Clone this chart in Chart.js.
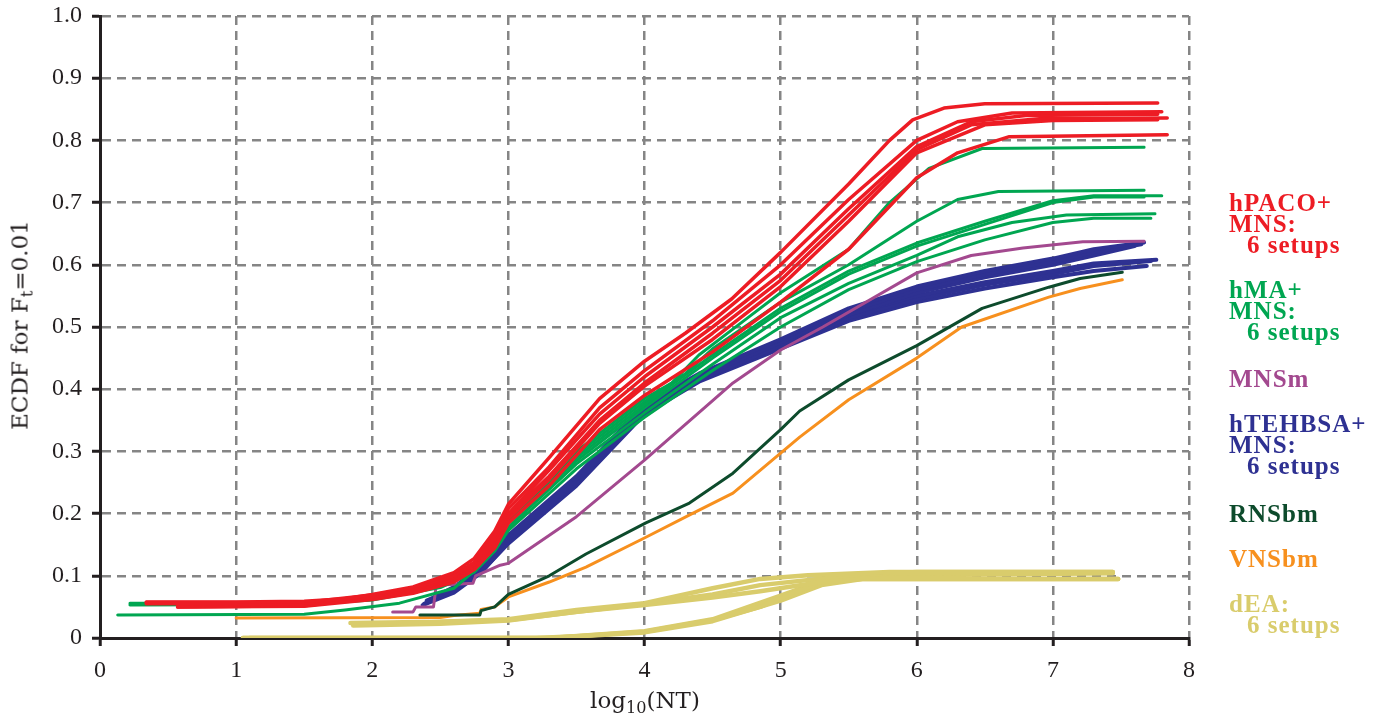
<!DOCTYPE html>
<html>
<head>
<meta charset="utf-8">
<script src="https://cdn.jsdelivr.net/npm/chart.js@4"></script>
<style>
body { margin: 0; background: #fff; }
#wrap { position: relative; width: 1392px; height: 717px; }
.lab { position: absolute; left: 1229px; font-family: "Liberation Serif", serif; font-weight: bold; font-size: 25px; letter-spacing: 1px; line-height: 21px; white-space: nowrap; }
.lab .in { padding-left: 18px; }
.ttl { position: absolute; font-family: "DejaVu Serif", serif; font-size: 23px; color: #231f20; white-space: nowrap; line-height: 23px; }
sub { font-size: 70%; line-height: 0; vertical-align: -0.3em; }
</style>
</head>
<body>
<div id="wrap">
  <canvas id="ecdf" width="1392" height="717"></canvas>
  <div class="ttl" style="left:20px;top:325px;transform:translate(-50%,-50%) rotate(-90deg);">ECDF for F<sub>t</sub>=0.01</div>
  <div class="ttl" style="left:645px;top:689px;transform:translateX(-50%);">log<sub>10</sub>(NT)</div>
  <div class="lab" style="top:192px;color:#ED1C24">hPACO+<br>MNS:<br><span class="in">6 setups</span></div>
  <div class="lab" style="top:279px;color:#00A651">hMA+<br>MNS:<br><span class="in">6 setups</span></div>
  <div class="lab" style="top:368px;color:#A3498F">MNSm</div>
  <div class="lab" style="top:413px;color:#2E3192">hTEHBSA+<br>MNS:<br><span class="in">6 setups</span></div>
  <div class="lab" style="top:503px;color:#0D4B2C">RNSbm</div>
  <div class="lab" style="top:548px;color:#F7901E">VNSbm</div>
  <div class="lab" style="top:593px;color:#D9CC6C">dEA:<br><span class="in">6 setups</span></div>
</div>
<script>
// axis ticks
const xTicks = [0, 1, 2, 3, 4, 5, 6, 7, 8];
const yTicks = [0, 0.1, 0.2, 0.3, 0.4, 0.5, 0.6, 0.7, 0.8, 0.9, 1.0];

// hPACO+MNS, 6 setups  [log10(NT), ECDF]
const hpaco1 = [[0.34,0.058],[1.0,0.058],[1.5,0.059],[1.8,0.063],[2.0,0.07],[2.3,0.082],[2.6,0.105],[2.75,0.128],[2.9,0.172],[3.0,0.215],[3.3,0.29],[3.67,0.385],[4.0,0.445],[4.3,0.49],[4.64,0.545],[5.0,0.62],[5.5,0.73],[5.8,0.8],[5.97,0.833],[6.2,0.852],[6.5,0.859],[7.77,0.86]];
const hpaco2 = [[0.34,0.055],[1.5,0.056],[2.0,0.068],[2.3,0.08],[2.6,0.1],[2.75,0.122],[2.9,0.165],[3.0,0.208],[3.3,0.275],[3.67,0.37],[4.0,0.43],[4.5,0.51],[5.0,0.6],[5.5,0.705],[6.0,0.8],[6.3,0.83],[6.7,0.844],[7.8,0.846]];
const hpaco3 = [[0.57,0.052],[1.5,0.054],[2.0,0.066],[2.3,0.078],[2.6,0.098],[2.75,0.118],[2.9,0.16],[3.0,0.2],[3.3,0.27],[3.67,0.36],[4.0,0.42],[4.5,0.5],[5.0,0.585],[5.5,0.69],[6.0,0.79],[6.4,0.83],[6.8,0.84],[7.77,0.842]];
const hpaco4 = [[0.34,0.057],[1.5,0.057],[2.0,0.069],[2.3,0.08],[2.6,0.1],[2.75,0.12],[2.9,0.158],[3.0,0.198],[3.3,0.26],[3.67,0.35],[4.0,0.41],[4.5,0.49],[5.0,0.575],[5.5,0.68],[6.0,0.785],[6.4,0.825],[6.9,0.835],[7.84,0.836]];
const hpaco5 = [[0.57,0.05],[1.5,0.052],[2.0,0.064],[2.3,0.076],[2.6,0.095],[2.75,0.115],[2.9,0.152],[3.0,0.192],[3.3,0.255],[3.67,0.345],[4.0,0.405],[4.5,0.48],[5.0,0.565],[5.5,0.67],[6.0,0.78],[6.5,0.825],[7.0,0.832],[7.77,0.833]];
const hpaco6 = [[0.57,0.05],[1.5,0.051],[2.0,0.062],[2.3,0.072],[2.6,0.09],[2.75,0.11],[2.9,0.145],[3.0,0.185],[3.3,0.245],[3.67,0.335],[4.0,0.39],[4.5,0.46],[5.0,0.54],[5.5,0.625],[6.0,0.74],[6.3,0.78],[6.68,0.806],[7.84,0.809]];

// hMA+MNS, 6 setups
const hma1 = [[0.22,0.056],[1.0,0.056],[1.5,0.058],[2.0,0.066],[2.5,0.09],[2.75,0.12],[2.9,0.158],[3.0,0.195],[3.5,0.3],[4.0,0.385],[4.2,0.41],[4.4,0.455],[4.76,0.515],[5.0,0.555],[5.5,0.625],[5.8,0.7],[6.09,0.755],[6.48,0.787],[7.67,0.789]];
const hma2 = [[0.13,0.037],[1.5,0.038],[1.8,0.045],[2.2,0.056],[2.6,0.08],[2.75,0.108],[2.9,0.15],[3.0,0.19],[3.5,0.295],[4.0,0.38],[4.3,0.425],[4.5,0.465],[5.0,0.54],[5.5,0.6],[6.0,0.67],[6.3,0.705],[6.6,0.718],[7.67,0.72]];
const hma3 = [[0.3,0.055],[1.5,0.056],[2.0,0.064],[2.5,0.086],[2.75,0.114],[2.9,0.152],[3.0,0.186],[3.5,0.29],[4.0,0.375],[4.5,0.455],[5.0,0.53],[5.5,0.59],[6.0,0.635],[6.5,0.67],[7.0,0.703],[7.3,0.711],[7.8,0.711]];
const hma4 = [[0.25,0.054],[1.5,0.055],[2.0,0.063],[2.5,0.085],[2.75,0.112],[2.9,0.15],[3.0,0.184],[3.5,0.285],[4.0,0.37],[4.5,0.45],[5.0,0.525],[5.5,0.585],[6.0,0.63],[6.5,0.665],[7.0,0.7],[7.3,0.709],[7.67,0.709]];
const hma5 = [[0.3,0.054],[1.5,0.055],[2.0,0.062],[2.5,0.083],[2.75,0.108],[2.9,0.144],[3.0,0.178],[3.5,0.28],[4.0,0.362],[4.5,0.44],[5.0,0.515],[5.5,0.57],[6.0,0.615],[6.3,0.645],[6.7,0.668],[7.1,0.68],[7.75,0.682]];
const hma6 = [[0.22,0.053],[1.5,0.054],[2.0,0.061],[2.5,0.081],[2.75,0.106],[2.9,0.14],[3.0,0.173],[3.5,0.272],[4.0,0.355],[4.5,0.43],[5.0,0.5],[5.5,0.56],[6.0,0.605],[6.5,0.64],[7.0,0.668],[7.3,0.675],[7.72,0.675]];

// MNSm
const mnsm = [[2.15,0.042],[2.3,0.042],[2.32,0.05],[2.45,0.05],[2.47,0.085],[2.74,0.088],[2.76,0.1],[2.94,0.117],[3.0,0.12],[3.5,0.195],[4.0,0.286],[4.65,0.41],[5.0,0.463],[5.31,0.5],[6.0,0.587],[6.4,0.615],[6.78,0.627],[7.22,0.637],[7.67,0.638]];

// hTEHBSA+MNS, 6 setups
const hteh1 = [[2.4,0.06],[2.6,0.08],[2.8,0.115],[3.0,0.165],[3.5,0.26],[4.0,0.375],[4.4,0.425],[5.0,0.48],[5.5,0.53],[6.0,0.565],[6.5,0.59],[7.0,0.61],[7.3,0.625],[7.67,0.636]];
const hteh2 = [[2.38,0.055],[2.6,0.075],[2.8,0.11],[3.0,0.16],[3.5,0.255],[4.0,0.37],[4.4,0.42],[5.0,0.475],[5.5,0.525],[6.0,0.56],[6.5,0.585],[7.0,0.605],[7.3,0.62],[7.65,0.633]];
const hteh3 = [[2.45,0.065],[2.6,0.082],[2.8,0.112],[3.0,0.158],[3.5,0.25],[4.0,0.365],[4.4,0.415],[5.0,0.47],[5.5,0.52],[6.0,0.555],[6.5,0.58],[7.0,0.6],[7.3,0.615],[7.6,0.63]];
const hteh4 = [[2.37,0.053],[2.6,0.073],[2.8,0.105],[3.0,0.155],[3.5,0.25],[4.0,0.365],[4.4,0.418],[5.0,0.472],[5.5,0.52],[6.0,0.55],[6.5,0.572],[7.0,0.59],[7.3,0.602],[7.76,0.608]];
const hteh5 = [[2.42,0.06],[2.6,0.078],[2.8,0.108],[3.0,0.16],[3.5,0.255],[4.0,0.37],[4.4,0.42],[5.0,0.468],[5.5,0.515],[6.0,0.545],[6.5,0.568],[7.0,0.585],[7.3,0.598],[7.72,0.606]];
const hteh6 = [[2.4,0.058],[2.6,0.076],[2.8,0.106],[3.0,0.152],[3.5,0.245],[4.0,0.36],[4.4,0.412],[5.0,0.465],[5.5,0.51],[6.0,0.54],[6.5,0.562],[7.0,0.58],[7.3,0.59],[7.69,0.598]];

// RNSbm, VNSbm
const rnsbm = [[2.35,0.037],[2.79,0.037],[2.8,0.044],[2.9,0.05],[3.0,0.07],[3.3,0.1],[3.57,0.135],[4.01,0.185],[4.33,0.217],[4.65,0.265],[5.0,0.335],[5.14,0.365],[5.5,0.415],[6.0,0.47],[6.48,0.53],[6.97,0.564],[7.2,0.578],[7.51,0.588]];
const vnsbm = [[1.0,0.032],[2.5,0.033],[2.6,0.036],[2.79,0.04],[2.8,0.046],[2.9,0.05],[3.0,0.066],[3.3,0.09],[3.57,0.114],[4.01,0.162],[4.35,0.2],[4.65,0.233],[5.14,0.323],[5.5,0.383],[6.0,0.45],[6.33,0.5],[6.97,0.548],[7.2,0.562],[7.51,0.576]];

// dEA, 6 setups
const dea1 = [[1.84,0.024],[2.5,0.026],[3.0,0.03],[3.5,0.045],[4.0,0.056],[4.5,0.08],[4.85,0.095],[5.2,0.101],[5.8,0.106],[7.44,0.106]];
const dea2 = [[1.86,0.02],[2.5,0.023],[3.0,0.028],[3.5,0.042],[4.0,0.053],[4.5,0.065],[4.85,0.075],[5.3,0.09],[5.6,0.095],[7.48,0.095]];
const dea3 = [[1.9,0.022],[3.0,0.029],[4.0,0.055],[4.5,0.07],[4.85,0.085],[5.5,0.1],[5.8,0.104],[7.44,0.105]];
const dea4 = [[1.05,0.0],[3.2,0.0],[3.5,0.003],[4.0,0.01],[4.5,0.029],[4.85,0.05],[5.0,0.064],[5.3,0.09],[5.58,0.101],[6.0,0.106],[7.44,0.106]];
const dea5 = [[1.05,0.0],[3.3,0.0],[4.0,0.009],[4.5,0.027],[5.0,0.06],[5.3,0.085],[5.6,0.095],[7.48,0.095]];
const dea6 = [[1.1,0.0],[3.3,0.0],[4.0,0.011],[4.5,0.03],[5.0,0.068],[5.3,0.092],[5.6,0.1],[7.44,0.104]];

const groups = [
    { color: "#ED1C24", width: 3.5, lines: [hpaco1, hpaco2, hpaco3, hpaco4, hpaco5, hpaco6] },
    { color: "#00A651", width: 3, lines: [hma1, hma2, hma3, hma4, hma5, hma6] },
    { color: "#A3498F", width: 3, lines: [mnsm] },
    { color: "#2E3192", width: 4, lines: [hteh1, hteh2, hteh3, hteh4, hteh5, hteh6] },
    { color: "#0D4B2C", width: 3, lines: [rnsbm] },
    { color: "#F7901E", width: 3, lines: [vnsbm] },
    { color: "#D9CC6C", width: 4.5, lines: [dea1, dea2, dea3, dea4, dea5, dea6] }
];

let datasets = [];
groups.forEach(g => {
    g.lines.forEach(pts => {
        datasets.push({
            data: pts.map(p => ({ x: p[0], y: p[1] })),
            borderColor: g.color,
            borderWidth: g.width,
            pointRadius: 0,
            tension: 0,
            fill: false,
            borderJoinStyle: "round",
            borderCapStyle: "round"
        });
    });
});

const tickFont = { family: "Liberation Serif", size: 24 };
const ink = "#231F20";

new Chart(document.getElementById("ecdf").getContext("2d"), {
    type: "line",
    data: { datasets: datasets },
    options: {
        responsive: false,
        animation: false,
        devicePixelRatio: 1,
        layout: { padding: { left: 0, right: 203, top: 16, bottom: 0 } },
        plugins: { legend: { display: false }, tooltip: { enabled: false } },
        scales: {
            x: {
                type: "linear",
                min: xTicks[0],
                max: xTicks[xTicks.length - 1],
                afterBuildTicks: s => { s.ticks = xTicks.map(v => ({ value: v })); },
                afterFit: s => { s.height = 79; s.paddingLeft = 0; s.paddingRight = 0; },
                ticks: { font: tickFont, color: ink, padding: 10, maxRotation: 0, callback: v => String(v) },
                grid: { color: "#858585", lineWidth: 2.5, tickLength: 8, tickWidth: 3, tickColor: ink },
                border: { color: ink, width: 3, dash: [9, 6] }
            },
            y: {
                type: "linear",
                min: yTicks[0],
                max: yTicks[yTicks.length - 1],
                afterBuildTicks: s => { s.ticks = yTicks.map(v => ({ value: v })); },
                afterFit: s => { s.width = 100; s.paddingTop = 0; s.paddingBottom = 0; },
                ticks: { font: tickFont, color: ink, padding: 10, callback: v => v === 0 ? "0" : v.toFixed(1) },
                grid: { color: "#858585", lineWidth: 2.5, tickLength: 8, tickWidth: 3, tickColor: ink },
                border: { color: ink, width: 3, dash: [9, 6] }
            }
        }
    }
});
</script>
</body>
</html>
